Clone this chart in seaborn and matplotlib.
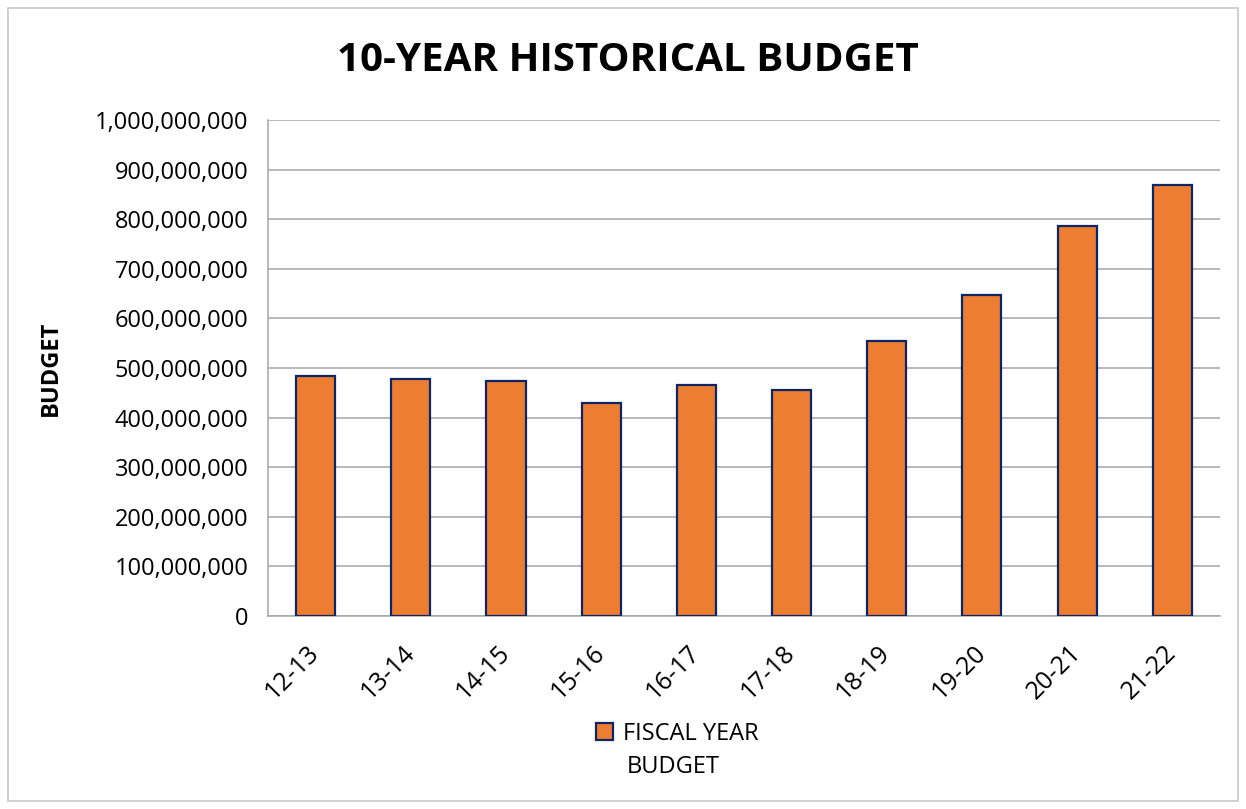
import matplotlib
matplotlib.use("Agg")
import matplotlib.pyplot as plt
import matplotlib.ticker as mticker
from matplotlib.patches import Rectangle, Patch
import pandas as pd
import seaborn as sns

# data
years = ["12-13", "13-14", "14-15", "15-16", "16-17",
         "17-18", "18-19", "19-20", "20-21", "21-22"]
budget = [484e6, 478e6, 474e6, 430e6, 466e6,
          456e6, 555e6, 647e6, 786e6, 868e6]

df = pd.DataFrame({"year": years, "budget": budget})

sns.set_style("white")
plt.rcParams["font.family"] = ["Open Sans", "DejaVu Sans"]
plt.rcParams["text.color"] = "black"
plt.rcParams["xtick.color"] = "black"
plt.rcParams["ytick.color"] = "black"
plt.rcParams["axes.labelcolor"] = "black"

fig = plt.figure(figsize=(12.46, 8.09), dpi=100)
ax = fig.add_axes([0.2151, 0.2386, 0.7640, 0.6131])

sns.barplot(data=df, x="year", y="budget", ax=ax, color="#ED7D31",
            saturation=1, width=0.41, edgecolor="#0B2566", linewidth=1.6,
            zorder=3)

ax.set_ylim(0, 1e9)
ax.set_xlim(-0.5, len(years) - 0.5)
ax.yaxis.set_major_locator(mticker.MultipleLocator(1e8))
ax.yaxis.set_major_formatter(mticker.FuncFormatter(lambda v, p: f"{v:,.0f}"))
ax.grid(axis="y", color="#a6a6a6", linewidth=1.1, zorder=0)

for s in ["top", "right"]:
    ax.spines[s].set_visible(False)
for s in ["left", "bottom"]:
    ax.spines[s].set_color("#a6a6a6")
    ax.spines[s].set_linewidth(1.1)

ax.tick_params(axis="y", length=6, width=1.1, color="#a6a6a6", labelsize=17, pad=8)
ax.tick_params(axis="x", which="major", length=0, labelsize=18, pad=24)
ax.xaxis.set_minor_locator(mticker.FixedLocator([i - 0.5 for i in range(len(years) + 1)]))
ax.tick_params(axis="x", which="minor", length=6, width=1.1, color="#a6a6a6")
for lab in ax.get_xticklabels():
    lab.set_rotation(45)
    lab.set_ha("right")
    lab.set_va("center")
    lab.set_rotation_mode("anchor")

ax.set_xlabel("")
ax.set_ylabel("BUDGET", fontsize=17, fontweight="bold")
ax.yaxis.set_label_coords(-0.216, 0.5)

fig.text(0.504, 0.925, "10-YEAR HISTORICAL BUDGET", ha="center", va="center",
         fontsize=29, fontweight="bold")

# legend (second line of the label sits indented under the first, as in Excel)
handle = Patch(facecolor="#ED7D31", edgecolor="#0B2566", linewidth=1.6)
fig.legend([handle], ["FISCAL YEAR"], loc="center left", bbox_to_anchor=(0.478, 0.093),
           frameon=False, fontsize=17, handlelength=0.75, handleheight=0.75,
           handletextpad=0.4, borderpad=0, borderaxespad=0)
fig.text(0.503, 0.052, "BUDGET", ha="left", va="center", fontsize=17)

# outer chart border
fig.patches.append(Rectangle((8 / 1246, 8 / 809), 1 - 16 / 1246, 1 - 16 / 809,
                             transform=fig.transFigure, fill=False,
                             edgecolor="#c8c8c8", linewidth=1.2))

fig.savefig("out.png", dpi=100)
